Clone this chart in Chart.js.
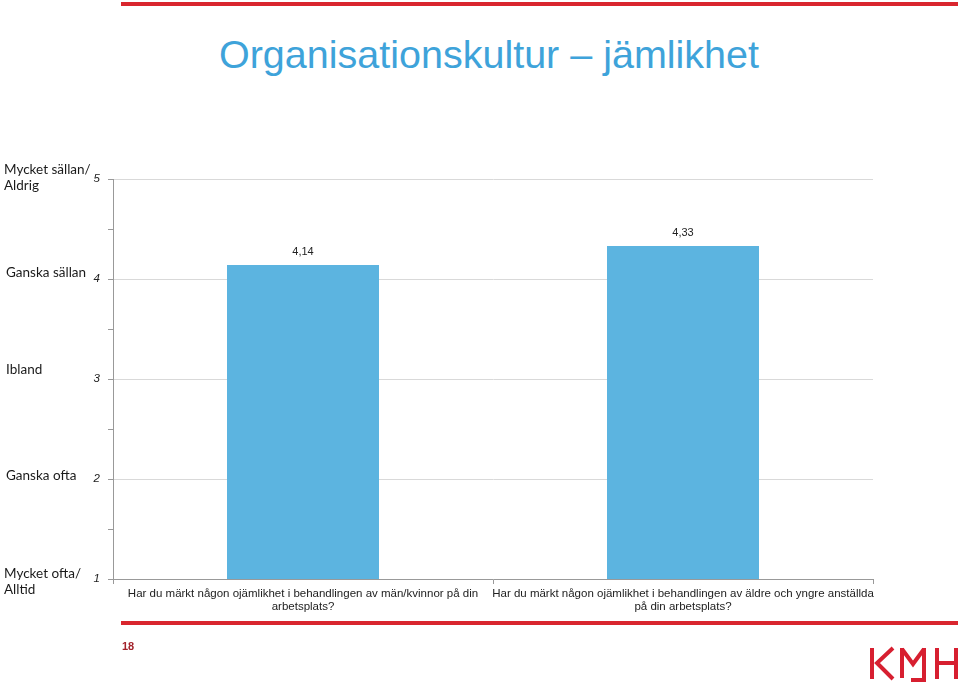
<!DOCTYPE html>
<html lang="sv">
<head>
<meta charset="UTF-8">
<title>Organisationskultur – jämlikhet</title>
<style>
    body { margin: 0; background: #fff; font-family: "Liberation Sans", Arial, sans-serif; }
    .page { position: relative; width: 960px; height: 684px; overflow: hidden; }
    .redline { position: absolute; left: 121px; width: 837px; height: 4px; background: #d9262e; }
    .title { position: absolute; left: 0; width: 978px; top: 32px; text-align: center; font-size: 39.5px; color: #3ea3da; }
    .pagenr { position: absolute; left: 122px; top: 640px; font-size: 11px; font-weight: bold; color: #a3232c; }
    canvas { position: absolute; left: 0; top: 0; }
    svg { position: absolute; left: 0; top: 0; }
</style>
</head>
<body>
<div class="page">
    <div class="redline" style="top:2px"></div>
    <div class="title">Organisationskultur – jämlikhet</div>
    <canvas id="chart" width="960" height="684"></canvas>
    <div class="redline" style="top:621px"></div>
    <div class="pagenr">18</div>
    <svg width="960" height="684">
        <g stroke="#d71f30" stroke-width="4" fill="none">
            <line x1="872" y1="648" x2="872" y2="679" />
            <polyline points="893,648 877,663 893,679" />
            <line x1="902" y1="648" x2="902" y2="678" />
            <polyline points="902,649 913,664 924,649" />
            <line x1="924" y1="648" x2="924" y2="678" />
            <line x1="911" y1="680" x2="926" y2="680" />
            <line x1="937" y1="648" x2="937" y2="679" />
            <line x1="956" y1="648" x2="956" y2="679" />
            <line x1="937" y1="663" x2="956" y2="663" />
        </g>
    </svg>
</div>
<script src="https://cdn.jsdelivr.net/npm/chart.js"></script>
<script>
    const categories = [
        ['Har du märkt någon ojämlikhet i behandlingen av män/kvinnor på din', 'arbetsplats?'],
        ['Har du märkt någon ojämlikhet i behandlingen av äldre och yngre anställda', 'på din arbetsplats?']
    ];
    const values = [4.14, 4.33];
    const valueLabels = ['4,14', '4,33'];
    const scaleValues = [5, 4, 3, 2, 1];
    const scaleNames = [
        ['Mycket sällan/', 'Aldrig'],
        ['Ganska sällan'],
        ['Ibland'],
        ['Ganska ofta'],
        ['Mycket ofta/', 'Alltid']
    ];

    // text till vänster om y-axeln + värden ovanför staplarna
    const nameShift = [-1, -6, -9, -3, 3];
    const extraText = {
        id: 'extraText',
        afterDraw(chart) {
            const c = chart.ctx;
            const y = chart.scales.y;
            c.save();
            c.fillStyle = '#1a1a1a';
            c.font = '13.5px Lato, "Open Sans", sans-serif';
            c.textAlign = 'left';
            c.textBaseline = 'middle';
            scaleValues.forEach((v, i) => {
                const lines = scaleNames[i];
                const py = y.getPixelForValue(v) + nameShift[i];
                const x = lines.length > 1 ? 4 : 6;
                lines.forEach((t, j) => {
                    c.fillText(t, x, py - (lines.length - 1) * 8 + j * 16);
                });
            });
            c.font = '11px "Liberation Sans", Arial, sans-serif';
            c.fillStyle = '#222';
            c.textAlign = 'center';
            c.textBaseline = 'bottom';
            const meta = chart.getDatasetMeta(0);
            meta.data.forEach((bar, i) => {
                c.fillText(valueLabels[i], bar.x, bar.y - 8);
            });
            c.restore();
        }
    };

    new Chart(document.getElementById('chart'), {
        type: 'bar',
        data: {
            labels: categories,
            datasets: [{
                data: values,
                backgroundColor: '#5cb4e0',
                barPercentage: 0.4,
                categoryPercentage: 1
            }]
        },
        options: {
            responsive: false,
            animation: false,
            layout: { padding: { left: 0, right: 87, top: 179, bottom: 60 } },
            plugins: { legend: { display: false }, tooltip: { enabled: false } },
            scales: {
                x: {
                    grid: { offset: true, drawOnChartArea: false, tickLength: 5, tickColor: '#999' },
                    border: { color: '#999' },
                    ticks: {
                        color: '#222',
                        padding: 3,
                        maxRotation: 0,
                        autoSkip: false,
                        font: { family: '"Liberation Sans", Arial, sans-serif', size: 11.5, lineHeight: 1.15 }
                    },
                    afterFit(s) { s.height = 45; }
                },
                y: {
                    min: 1,
                    max: 5,
                    grid: {
                        color: ctx => Number.isInteger(ctx.tick.value) ? '#d9d9d9' : 'rgba(0,0,0,0)',
                        tickColor: '#999',
                        tickLength: 5
                    },
                    border: { color: '#999' },
                    ticks: {
                        stepSize: 0.5,
                        color: '#222',
                        padding: 8,
                        font: { family: '"Liberation Sans", Arial, sans-serif', size: 11.5, style: 'italic' },
                        callback: v => Number.isInteger(v) ? String(v) : ''
                    },
                    afterFit(s) { s.width = 113; }
                }
            }
        },
        plugins: [extraText]
    });
</script>
</body>
</html>
